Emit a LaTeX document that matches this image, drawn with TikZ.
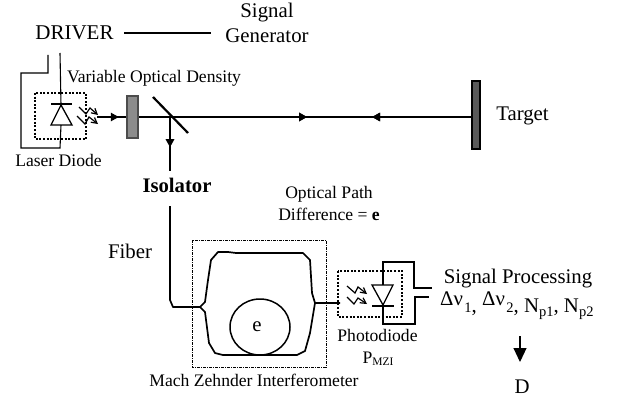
\documentclass[tikz,border=0pt]{standalone}
\usepackage{fontspec}
\setmainfont{Liberation Serif}
\usetikzlibrary{arrows.meta,decorations.markings}
\newcommand{\subsz}{\fontsize{14.5}{14.5}\selectfont}
\tikzset{
  x=1pt,y=-1pt,
  lbl/.style={inner sep=0pt,anchor=base,align=center,font=\fontsize{#1}{#1}\selectfont},
  wire/.style={line width=1.1pt,line join=miter},
  beam/.style={line width=1.4pt},
  fibre/.style={line width=1.7pt,line join=round},
  dotbox/.style={line width=1.7pt,dash pattern=on 2pt off 1.6pt},
  dashbox/.style={line width=0.9pt,dash pattern=on 3pt off 1pt on 1pt off 1pt},
  zig/.style={line width=1.2pt,-{Straight Barb[length=5.5pt,width=6pt]}},
  midhead/.style={postaction={decorate},decoration={markings,mark=at position #1 with {\arrow{Triangle[length=8pt,width=8.5pt]}}}},
  midback/.style={postaction={decorate},decoration={markings,mark=at position #1 with {\arrow{Triangle[reversed,length=8pt,width=8.5pt]}}}},
}
\begin{document}
\begin{tikzpicture}
\useasboundingbox (0,0) rectangle (617,401);
% labels
\node[lbl=21] (driver) at (74.5,40) {DRIVER};
\node[lbl=20.8] (sig) at (267,18) {Signal};
\node[lbl=20.8] (gen) at (267,43) {Generator};
\node[lbl=17.6] (vod) at (154,82.5) {Variable Optical Density};
\node[lbl=17.6] (ld) at (58.5,166) {Laser Diode};
\node[inner sep=0pt,anchor=base,font=\fontsize{20.7}{20.7}\selectfont\bfseries] (iso) at (177,192.7) {Isolator};
\node[lbl=20.8] (tgt) at (522.5,120) {Target};
\node[lbl=20.8] (fib) at (130,258) {Fiber};
\node[lbl=17.6] (opd1) at (329,198) {Optical Path};
\node[lbl=17.6] (opd2) at (329,220) {Difference = \textbf{e}};
\node[lbl=20.8] (e) at (257,331) {e};
\node[lbl=17.6] (mzi) at (254,386) {Mach Zehnder Interferometer};
\node[lbl=17.6] (pd) at (377.5,341.7) {Photodiode};
\node[lbl=17.6] (pmzi) at (378,363) {P\raisebox{-2pt}{\fontsize{11.5}{11.5}\selectfont MZI}};
\node[lbl=20.8] (sp) at (518,283) {Signal Processing};
\node[lbl=20.8,anchor=base west] (dn) at (440,312) {\raisebox{7pt}{Δν}\kern1.5pt{\subsz 1}, \raisebox{7pt}{Δν}\kern1.5pt{\subsz 2}, N\raisebox{-4pt}{\subsz p1}, N\raisebox{-4pt}{\subsz p2}};
\node[lbl=20.8] (dd) at (522,393) {D};
% coordinates
\coordinate (dR) at (124,33); \coordinate (gL) at (211,33);
\coordinate (w1) at (48,55); \coordinate (w2) at (60,53);
\coordinate (dTop) at (61,105); \coordinate (dBot) at (61,125);
\coordinate (beamS) at (97,117); \coordinate (tg) at (472,117);
\coordinate (mir) at (170,117); \coordinate (isoT) at (170,171);
\coordinate (isoB) at (170,206); \coordinate (fj) at (200,307);
\coordinate (pj) at (315,303); \coordinate (pe) at (340,303);
\coordinate (dnT) at (520,336); \coordinate (dnB) at (520,362);
% driver
\draw[beam] (dR) -- (gL);
\draw[wire] (w1) |- (21,73) |- (60,148) -- (dBot);
\draw[wire] (w2) -- (dTop);
% laser box
\draw[dotbox] (35,93) rectangle (86,139);
\draw[wire,line width=1.3pt] (dTop) -- (51,125) -- (72,125) -- cycle;
\draw[wire,line width=1.3pt] (51,104) -- (72,104);
\draw[zig] (79,107) -- (86,114) -- (90,108) -- (98,115);
\draw[zig] (77,116) -- (85,124) -- (89,117) -- (98,124);
% beam
\draw[beam,midhead=0.058] (beamS) -- (tg);
\draw[beam,midhead=0.56,midback=0.755] (beamS) -- (tg);
\draw[line width=1.2pt,draw=black!70,fill=black!45] (127,96) rectangle (138,138);
\draw[line width=2.2pt] (153,97) -- (188,133);
\draw[beam,midhead=0.56] (mir) -- (isoT);
\draw[line width=1.4pt,draw=black,fill=black!65] (472,81) rectangle (480,149);
% fibre + MZI
\draw[dashbox] (192,240) rectangle (326,367);
\draw[fibre] (isoB) -- (170,300) -- (173,307) -- (fj);
\draw[fibre] (fj) -- (205,302) -- (208,280) -- (211,260) -- (218,252) -- (228,252) -- (236,253) -- (303,253) -- (310,260) -- (312,293) -- (315,303) -- (pe);
\draw[fibre] (fj) -- (205,312) -- (209,343) -- (215,353) -- (223,355) -- (297,355) -- (305,351) -- (310,333) -- (pj);
\draw[fibre,line width=1.5pt] (260,327) ellipse [x radius=30,y radius=28];
% photodiode
\draw[dotbox] (338,271) rectangle (402,317);
\draw[wire,line width=1.3pt] (372,285) -- (393,285) -- (383,305) -- cycle;
\draw[wire,line width=1.3pt] (372,306) -- (394,306);
\draw[wire] (383,285) |- (414,262) |- (432,288);
\draw[wire] (383,306) |- (415,324) |- (429,297);
\draw[zig] (347,286) -- (355,293) -- (358,287) -- (367,294);
\draw[zig] (347,297) -- (354,304) -- (358,298) -- (367,304);
% output
\draw[wire,-{Triangle[length=14pt,width=13pt]}] (dnT) -- (dnB);
\end{tikzpicture}
\end{document}
